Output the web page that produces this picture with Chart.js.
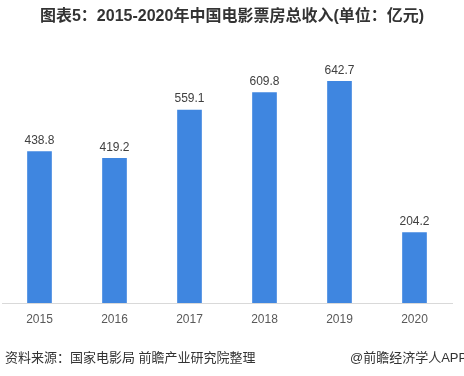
<!DOCTYPE html>
<html>
<head>
<meta charset="utf-8">
<script src="https://cdn.jsdelivr.net/npm/chart.js@4"></script>
<style>
  body { margin: 0; background: #fff; }
  #wrap { width: 464px; height: 376px; }
</style>
</head>
<body>
<div id="wrap"><canvas id="cvs" width="464" height="376"></canvas></div>
<script>
const years = ['2015', '2016', '2017', '2018', '2019', '2020'];
const boxOffice = [438.8, 419.2, 559.1, 609.8, 642.7, 204.2];
const titleText = '图表5：2015-2020年中国电影票房总收入(单位：亿元)';
const sourceText = '资料来源：国家电影局 前瞻产业研究院整理';
const creditText = '@前瞻经济学人APP';

const FONT = '"Liberation Sans", Arial, "Noto Sans CJK SC", sans-serif';

// values over the bars + title/footer text
const decorations = {
    id: 'decorations',
    afterDatasetsDraw(chart) {
        const ctx = chart.ctx;
        ctx.save();
        ctx.fillStyle = '#404040';
        ctx.font = '12px ' + FONT;
        ctx.textAlign = 'center';
        ctx.textBaseline = 'middle';
        chart.getDatasetMeta(0).data.forEach((bar, i) => {
            ctx.fillText(boxOffice[i].toFixed(1), bar.x, bar.y - 11);
        });

        ctx.fillStyle = '#333';
        ctx.font = 'bold 16px ' + FONT;
        ctx.fillText(titleText, 232, 17);

        ctx.font = '13px ' + FONT;
        ctx.textAlign = 'left';
        ctx.fillText(sourceText, 5, 358);
        ctx.fillText(creditText, 350, 358);
        ctx.restore();
    }
};

new Chart(document.getElementById('cvs'), {
    type: 'bar',
    data: {
        labels: years,
        datasets: [{
            data: boxOffice,
            backgroundColor: '#3f86e0',
            barThickness: 24
        }]
    },
    options: {
        responsive: false,
        devicePixelRatio: 1,
        animation: false,
        layout: { padding: { top: 27, left: 2, right: 12, bottom: 0 } },
        plugins: {
            legend: { display: false },
            tooltip: { enabled: false },
            title: { display: false }
        },
        scales: {
            x: {
                grid: { display: false, drawTicks: false },
                border: { display: true, color: '#d9d9d9', width: 1 },
                ticks: { color: '#595959', font: { size: 12, family: FONT }, padding: 9 },
                afterFit: (scale) => { scale.height = 73; }
            },
            y: {
                display: false,
                min: 0,
                max: 800
            }
        }
    },
    plugins: [decorations]
});
</script>
</body>
</html>
